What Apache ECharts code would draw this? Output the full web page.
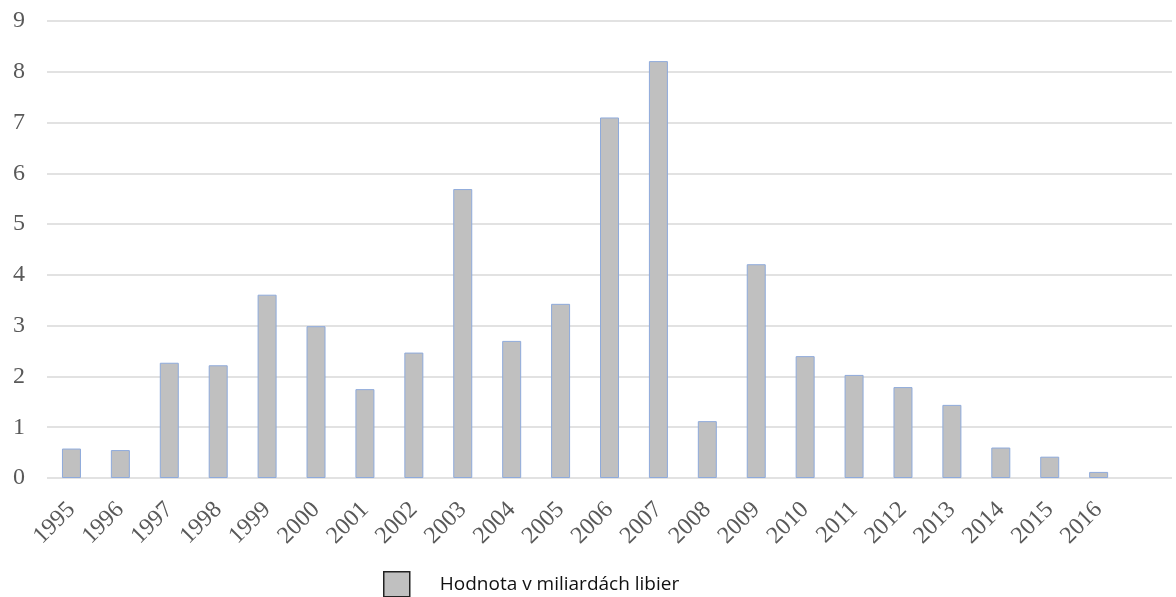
<!DOCTYPE html>
<html>
<head>
<meta charset="utf-8">
<script src="https://cdn.jsdelivr.net/npm/echarts@6/dist/echarts.min.js"></script>
<style>
  html, body { margin: 0; padding: 0; background: #fff; }
  #chart { width: 1176px; height: 597px; }
</style>
</head>
<body>
<div id="chart"></div>
<script>
// Years on the category axis; the trailing blank slot leaves room at the right end
const years = ['1995', '1996', '1997', '1998', '1999', '2000', '2001', '2002', '2003', '2004', '2005',
  '2006', '2007', '2008', '2009', '2010', '2011', '2012', '2013', '2014', '2015', '2016', ''];
// Value in billions of pounds per year
const values = [0.58, 0.55, 2.27, 2.22, 3.61, 2.99, 1.75, 2.47, 5.69, 2.70, 3.43,
  7.10, 8.21, 1.12, 4.21, 2.40, 2.03, 1.79, 1.44, 0.60, 0.42, 0.12, null];
const seriesName = 'Hodnota v miliardách libier';
const yMin = 0, yMax = 9, yStep = 1;

const chart = echarts.init(document.getElementById('chart'));
chart.setOption({
  animation: false,
  backgroundColor: '#ffffff',
  grid: { left: 47, right: 4, top: 21, bottom: 119 },
  legend: {
    top: 571,
    left: 383,
    padding: 0,
    icon: 'rect',
    itemWidth: 26,
    itemHeight: 25,
    itemStyle: { color: '#c0c0c0', borderColor: '#222222', borderWidth: 1.5 },
    textStyle: { fontFamily: 'Open Sans', fontSize: 19, color: '#111111', padding: [0, 0, 0, 25] },
    data: [seriesName]
  },
  xAxis: {
    type: 'category',
    data: years,
    axisLine: { show: false },
    axisTick: { show: false },
    axisLabel: {
      rotate: 45,
      interval: 0,
      margin: 28,
      fontFamily: 'Liberation Serif',
      fontSize: 24,
      color: '#595959'
    }
  },
  yAxis: {
    type: 'value',
    min: yMin,
    max: yMax,
    interval: yStep,
    axisLine: { show: false },
    axisTick: { show: false },
    axisLabel: {
      margin: 22,
      fontFamily: 'Liberation Serif',
      fontSize: 24,
      color: '#595959'
    },
    splitLine: { lineStyle: { color: '#d9d9d9', width: 1.5 } }
  },
  series: [{
    name: seriesName,
    type: 'bar',
    data: values,
    barWidth: 19,
    itemStyle: { color: '#c0c0c0', borderColor: '#8eaadb', borderWidth: 1 }
  }]
});
</script>
</body>
</html>
